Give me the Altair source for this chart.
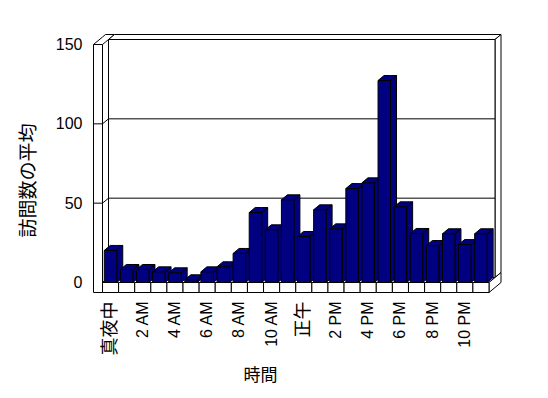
import altair as alt
import pandas as pd
import numpy as np

# ---- data ----
hours = ["真夜中", "1 AM", "2 AM", "3 AM", "4 AM", "5 AM", "6 AM", "7 AM",
         "8 AM", "9 AM", "10 AM", "11 AM", "正午", "1 PM", "2 PM", "3 PM",
         "4 PM", "5 PM", "6 PM", "7 PM", "8 PM", "9 PM", "10 PM", "11 PM"]
visits = [20.2, 8.2, 8.2, 6.7, 6.1, 1.7, 6.7, 9.9, 18.3, 44.1, 33.2, 52.1,
          29.0, 45.8, 33.8, 59.2, 62.8, 127.3, 47.7, 30.9, 23.3, 30.7, 23.9, 30.7]
y_ticks = [0, 50, 100, 150]
grid_levels = [50, 100]
x_title = "時間"
y_title = "訪問数の平均"

# ---- layout constants ----
N = len(hours)
VMAX = 150
W, H = 386.5, 238
PX_U = W / N
PX_V = H / VMAX
DU = 6 / PX_U          # depth step (x) in data units
DV = 5 / PX_V          # depth step (y) in data units
FLOOR = 10 / PX_V      # floor thickness
WALL = 9 / PX_U        # left wall thickness
B0, B1 = 0.11, 0.885   # bar front face inside each category cell

NAVY = "#000080"
LATIN = "Liberation Sans, Noto Sans CJK JP"
CJK = "Noto Sans CJK JP"

xs = alt.Scale(domain=[0, N], nice=False, zero=False)
ys = alt.Scale(domain=[0, VMAX], nice=False, zero=False)

X_AXIS = alt.Axis(
    values=[i + 0.5 for i in range(0, N, 2)], labels=False,
    domain=False, ticks=False, grid=False,
    title=x_title, titleFont=CJK, titleFontSize=17, titleFontWeight="normal",
    titleColor="black", titleX=157.5, titleY=93, titleAlign="center",
    titleBaseline="middle",
)
Y_AXIS = alt.Axis(
    values=y_ticks, labelFont="Liberation Sans", labelFontSize=16,
    labelPadding=20.5, labelColor="black", domain=False, ticks=False, grid=False,
    title=y_title, titleFont=CJK, titleFontSize=19, titleFontWeight="normal",
    titleColor="black", titleX=-74, titleY=135.5, titleAlign="center",
    titleBaseline="middle", titleAngle=-90,
)


def para_h(key, ua, ub, v, du, dv):
    """parallelogram with horizontal front edge [ua,ub] at v, receding by (du,dv)"""
    xsx = sorted({ua, ub, ua + du, ub + du})
    hi = np.interp(xsx, [ua, ua + du, ub + du], [v, v + dv, v + dv])
    lo = np.interp(xsx, [ua, ub, ub + du], [v, v, v + dv])
    return [dict(key=key, u=a, hi=h, lo=l) for a, h, l in zip(xsx, hi, lo)]


def para_v(key, u, vb, vt, du, dv):
    """parallelogram with vertical front edge at u from vb to vt"""
    return [dict(key=key, u=u, hi=vt, lo=vb), dict(key=key, u=u + du, hi=vt + dv, lo=vb + dv)]


def area_layer(rows, fill):
    return alt.Chart(pd.DataFrame(rows)).mark_area(
        fill=fill, stroke="black", strokeWidth=1, opacity=1
    ).encode(
        x=alt.X("u:Q", scale=xs, axis=X_AXIS),
        y=alt.Y("hi:Q", scale=ys, axis=Y_AXIS, stack=None),
        y2="lo:Q",
        detail="key:N",
    )


def rect_layer(rows, fill):
    return alt.Chart(pd.DataFrame(rows)).mark_rect(
        fill=fill, stroke="black", strokeWidth=1
    ).encode(
        x=alt.X("u0:Q", scale=xs, axis=X_AXIS),
        x2="u1:Q",
        y=alt.Y("v1:Q", scale=ys, axis=Y_AXIS),
        y2="v0:Q",
    )


# ---- box (walls and floor) ----
floor_top = area_layer(para_h("ft", 0, N, 0, 2 * DU, 2 * DV), "white")
left_top = area_layer(para_h("lt", -WALL, 0, VMAX, 2 * DU, 2 * DV), "white")
back_top = area_layer(para_h("bt", DU, N + DU, VMAX + DV, DU, DV), "white")
back_right = area_layer(para_v("br", N + DU, DV, VMAX + DV, DU, DV), "white")
floor_right = area_layer(para_v("fr", N, -FLOOR, 0, 2 * DU, 2 * DV), "white")
back_wall = rect_layer([dict(u0=DU, u1=N + DU, v0=DV, v1=VMAX + DV)], "white")
left_front = rect_layer([dict(u0=-WALL, u1=0, v0=-FLOOR, v1=VMAX)], "white")
floor_cells = rect_layer([dict(u0=i, u1=i + 1, v0=-FLOOR, v1=0) for i in range(N)], "white")

grid_rows = []
for g in grid_levels:
    for o, (u, v) in enumerate([(-WALL, g), (0, g), (DU, g + DV), (N + DU, g + DV)]):
        grid_rows.append(dict(key=f"g{g}", o=o, u=u, v=v))
grid = alt.Chart(pd.DataFrame(grid_rows)).mark_line(stroke="black", strokeWidth=1).encode(
    x=alt.X("u:Q", scale=xs, axis=X_AXIS),
    y=alt.Y("v:Q", scale=ys, axis=Y_AXIS),
    detail="key:N",
    order="o:Q",
)

# ---- bars ----
side_rows, top_rows = [], []
for i, v in enumerate(visits):
    side_rows += para_v(f"s{i:02d}", i + B1, 0, v, DU, DV)
    top_rows += para_h(f"t{i:02d}", i + B0, i + B1, v, DU, DV)
sides = area_layer(side_rows, NAVY)
tops = area_layer(top_rows, NAVY)

front_df = pd.DataFrame({"hour": hours, "v1": visits})
front_df["i"] = range(N)
front_df["u0"] = front_df["i"] + B0
front_df["u1"] = front_df["i"] + B1
front_df["v0"] = 0.0

fronts = alt.Chart(front_df).mark_rect(fill=NAVY, stroke="black", strokeWidth=1).encode(
    x=alt.X("u0:Q", scale=xs, axis=X_AXIS),
    x2="u1:Q",
    y=alt.Y("v1:Q", scale=ys, axis=Y_AXIS),
    y2="v0:Q",
)

# ---- category labels (every other hour, rotated) ----
lab_df = pd.DataFrame({"label": hours[::2]})
lab_df["u"] = [i + 0.5 for i in range(0, N, 2)]
lab_df["cjk"] = ["M" not in h for h in hours[::2]]
labels = alt.Chart(lab_df).mark_text(
    angle=270, align="right", baseline="middle", font=LATIN, color="black"
).encode(
    x=alt.X("u:Q", scale=xs, axis=X_AXIS),
    y=alt.value(H + 19),
    text="label:N",
    size=alt.condition("datum.cjk", alt.value(18), alt.value(16)),
)

chart = alt.layer(
    floor_top, left_top, back_top, back_right, back_wall, left_front,
    floor_right, floor_cells, grid, sides, tops, fronts, labels,
).properties(
    width=W, height=H,
    autosize=alt.AutoSizeParams(type="none"),
    padding={"left": 94.5, "top": 36.5, "right": 51, "bottom": 107.5},
    background="white",
).configure_view(stroke=None)

chart.save("out.html", embed_options={"renderer": "svg", "actions": False})
